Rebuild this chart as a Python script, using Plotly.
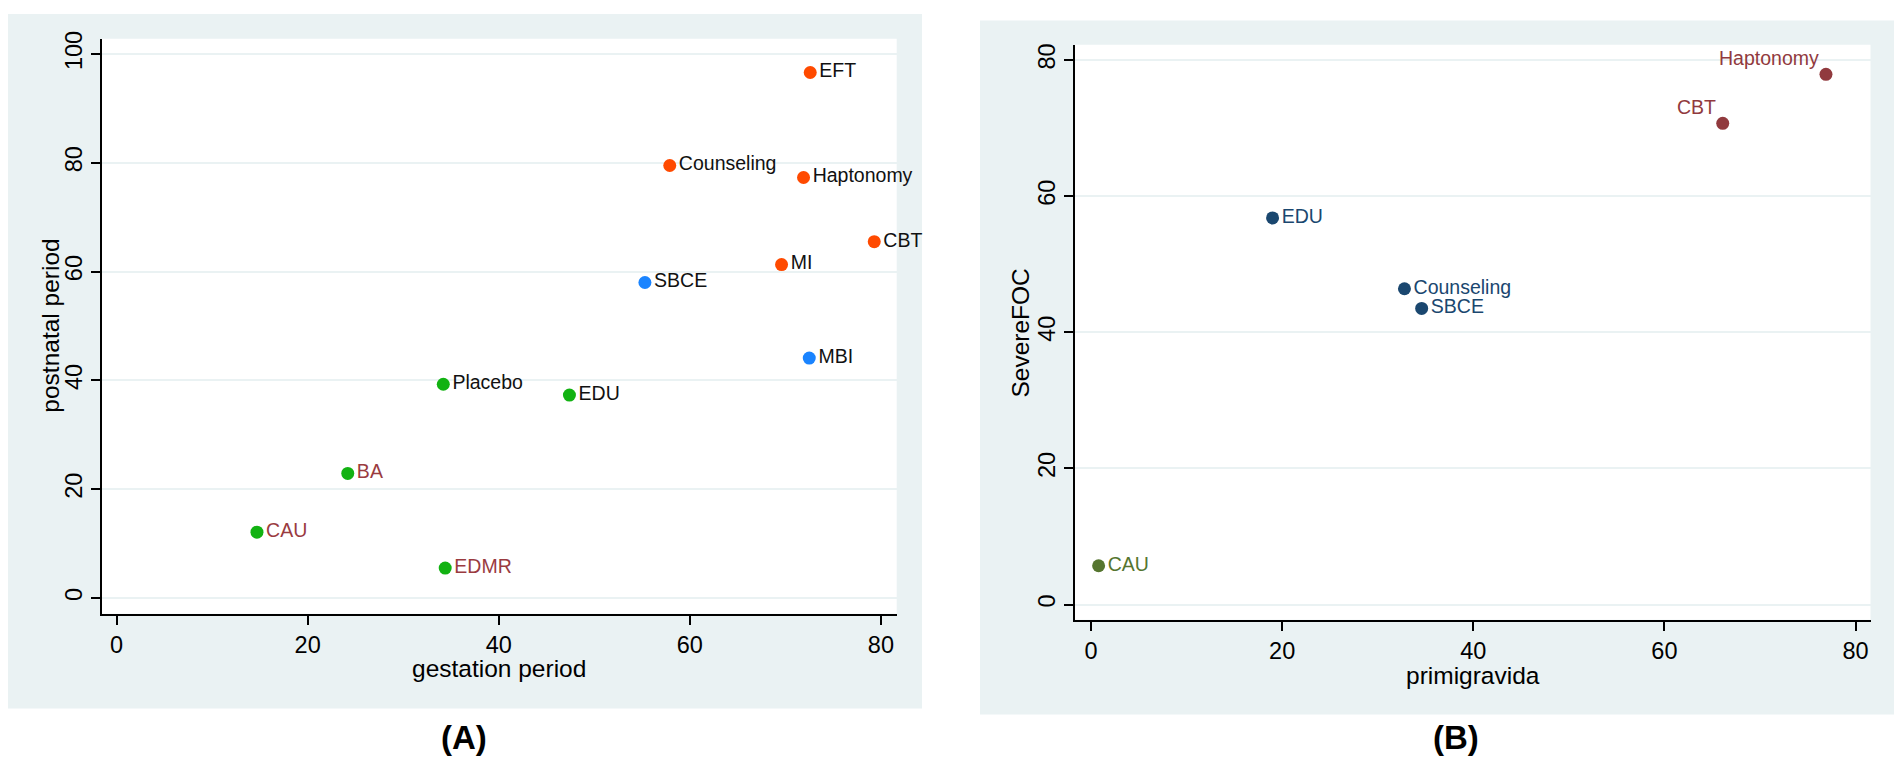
import plotly.graph_objects as go

# Panel A: gestation period vs postnatal period
a_names = ['EFT', 'Counseling', 'Haptonomy', 'CBT', 'MI', 'SBCE', 'MBI',
           'Placebo', 'EDU', 'BA', 'CAU', 'EDMR']
a_gestation = [72.6, 57.9, 71.9, 79.3, 69.6, 55.3, 72.5, 34.2, 47.4, 24.2, 14.7, 34.4]
a_postnatal = [96.6, 79.5, 77.3, 65.5, 61.3, 58.0, 44.1, 39.3, 37.3, 22.9, 12.1, 5.5]
a_cluster = [1, 1, 1, 1, 1, 2, 2, 3, 3, 3, 3, 3]
a_flag = [0, 0, 0, 0, 0, 0, 0, 0, 0, 1, 1, 1]

# Panel B: primigravida vs SevereFOC
b_names = ['Haptonomy', 'CBT', 'EDU', 'Counseling', 'SBCE', 'CAU']
b_primigravida = [76.9, 66.1, 19.0, 32.8, 34.6, 0.8]
b_severefoc = [77.9, 70.7, 56.8, 46.4, 43.5, 5.7]
b_cluster = [1, 1, 2, 2, 2, 3]

x_ticks = [0, 20, 40, 60, 80]
a_y_ticks = [0, 20, 40, 60, 80, 100]
b_y_ticks = [0, 20, 40, 60, 80]

# page has an 8px body margin, so the figure is drawn 8px in from the corner
PAGE_W, PAGE_H, OFF = 1902, 767, 8
W, H = PAGE_W - 2 * OFF, PAGE_H - 2 * OFF
FONT = "Arial, Liberation Sans, sans-serif"
BG = "#eaf2f3"
MAROON = "#9a3b3f"

a_colors = {1: "#ff4a00", 2: "#1a84ff", 3: "#12b212"}
b_colors = {1: "#913a3e", 2: "#1a476f", 3: "#55752f"}


def px(x):
    return (x - OFF) / W


def py(y):
    return 1 - (y - OFF) / H


fig = go.Figure()

for c in [1, 2, 3]:
    idx = [i for i, k in enumerate(a_cluster) if k == c]
    fig.add_trace(go.Scatter(
        x=[a_gestation[i] for i in idx], y=[a_postnatal[i] for i in idx],
        text=[a_names[i] for i in idx], mode="markers+text",
        textposition="middle right",
        marker=dict(size=13, color=a_colors[c]),
        textfont=dict(family=FONT, size=19.5,
                      color=[MAROON if a_flag[i] else "#111111" for i in idx]),
        xaxis="x", yaxis="y", showlegend=False, cliponaxis=False))

for c in [1, 2, 3]:
    idx = [i for i, k in enumerate(b_cluster) if k == c]
    left = c == 1
    fig.add_trace(go.Scatter(
        x=[b_primigravida[i] for i in idx], y=[b_severefoc[i] for i in idx],
        text=[b_names[i] for i in idx],
        mode="markers" if left else "markers+text",
        textposition="middle right",
        marker=dict(size=13, color=b_colors[c]),
        textfont=dict(family=FONT, size=19.5, color=b_colors[c]),
        xaxis="x2", yaxis="y2", showlegend=False, cliponaxis=False))
    if left:
        # labels sit up and to the left of these markers
        for i in idx:
            fig.add_annotation(x=b_primigravida[i], y=b_severefoc[i], xref="x2", yref="y2",
                               text=b_names[i], showarrow=False,
                               xanchor="right", yanchor="bottom", xshift=-5, yshift=3,
                               font=dict(family=FONT, size=19.5, color=b_colors[c]))

axis_common = dict(showline=True, linecolor="black", linewidth=1.5,
                   ticks="outside", ticklen=9, tickwidth=1.5, tickcolor="black",
                   tickfont=dict(family=FONT, size=23.5, color="black"),
                   zeroline=False, fixedrange=True)

fig.update_layout(
    width=W, height=H, margin=dict(l=0, r=0, t=0, b=0),
    paper_bgcolor="white", plot_bgcolor="rgba(0,0,0,0)",
    xaxis=dict(domain=[px(101.7), px(896.7)], range=[-1.55, 81.65],
               tickvals=x_ticks, showgrid=False, anchor="y", **axis_common),
    yaxis=dict(domain=[py(612.3), py(31)], range=[-2.91, 102.8],
               tickvals=a_y_ticks, tickangle=-90, showgrid=True,
               gridcolor=BG, gridwidth=2, anchor="x", **axis_common),
    xaxis2=dict(domain=[px(1075), px(1870.5)], range=[-1.67, 81.56],
                tickvals=x_ticks, showgrid=False, anchor="y2", **axis_common),
    yaxis2=dict(domain=[py(618.3), py(37.1)], range=[-2.24, 82.24],
                tickvals=b_y_ticks, tickangle=-90, showgrid=True,
                gridcolor=BG, gridwidth=2, anchor="x2", **axis_common),
)

# panel backgrounds and white plot regions
for (x0, y0, x1, y1, col) in [(6, 6, 922, 708, BG), (980, 12.5, 1897, 714, BG),
                              (101.7, 31, 896.7, 612.3, "white"),
                              (1075, 37.1, 1870.5, 618.3, "white")]:
    fig.add_shape(type="rect", xref="paper", yref="paper",
                  x0=px(x0), x1=px(x1), y0=py(y1), y1=py(y0),
                  fillcolor=col, line=dict(width=0), layer="below")

# axis titles
for (txt, x, y, ang) in [("gestation period", 499, 668, 0),
                         ("postnatal period", 51, 321, -90),
                         ("primigravida", 1473, 675, 0),
                         ("SevereFOC", 1021, 328, -90)]:
    fig.add_annotation(text=txt, xref="paper", yref="paper", x=px(x), y=py(y),
                       xanchor="center", yanchor="middle", showarrow=False,
                       textangle=ang, font=dict(family=FONT, size=24.5, color="black"))

# panel letters, kept inside the bottom edge of the figure
for (txt, x) in [("(A)", 464), ("(B)", 1455.5)]:
    fig.add_annotation(text="<b>%s</b>" % txt, xref="paper", yref="paper",
                       x=px(x), y=py(758), xanchor="center", yanchor="bottom",
                       showarrow=False, font=dict(family=FONT, size=33, color="black"))

fig.write_html("out.html")
